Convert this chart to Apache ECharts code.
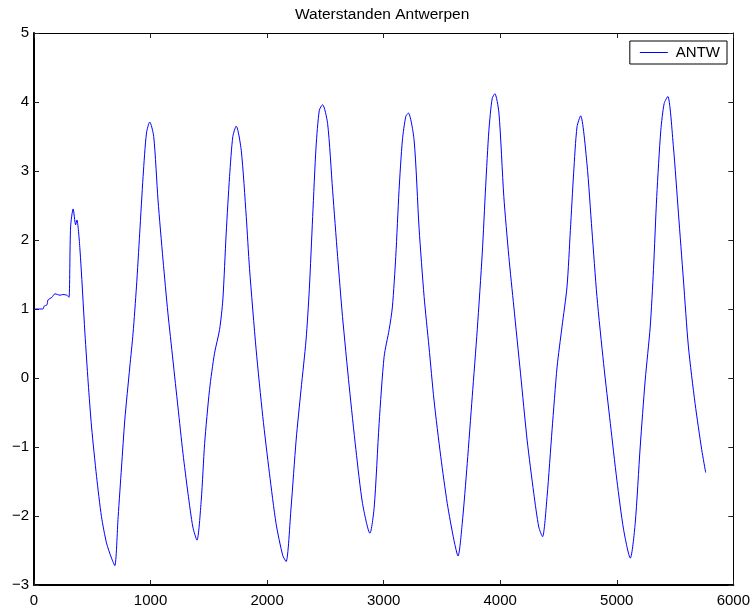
<!DOCTYPE html>
<html>
<head>
<meta charset="utf-8">
<script src="https://cdn.jsdelivr.net/npm/echarts@6/dist/echarts.min.js"></script>
<style>
html,body{margin:0;padding:0;background:#fff;}
#chart{width:753px;height:611px;}
</style>
</head>
<body>
<div id="chart"></div>
<script>
var titleText = 'Waterstanden Antwerpen';
var seriesName = 'ANTW';
var xTicks = [0, 1000, 2000, 3000, 4000, 5000, 6000];
var yTicks = [-3, -2, -1, 0, 1, 2, 3, 4, 5];

var times = [
  10, 77, 86, 111, 120, 154, 180, 223, 248, 282, 300, 314, 336, 357, 368, 394, 437,
  465, 494, 537, 579, 622, 665, 693, 722, 751, 779, 822, 850, 879, 907, 936, 965, 993,
  1027, 1064, 1107, 1149, 1192, 1235, 1278, 1321, 1363, 1398, 1435, 1464, 1506, 1549,
  1592, 1620, 1649, 1678, 1706, 1735, 1778, 1821, 1849, 1906, 1963, 2020, 2077, 2134,
  2163, 2206, 2249, 2291, 2334, 2362, 2391, 2420, 2448, 2476, 2519, 2562, 2605, 2647,
  2705, 2762, 2819, 2882, 2919, 2961, 3004, 3047, 3075, 3104, 3132, 3161, 3190, 3212,
  3261, 3304, 3347, 3389, 3432, 3490, 3546, 3603, 3638, 3674, 3717, 3760, 3803, 3846,
  3875, 3903, 3931, 3954, 3989, 4031, 4074, 4117, 4174, 4231, 4288, 4331, 4363, 4402,
  4445, 4488, 4530, 4573, 4602, 4630, 4659, 4690, 4744, 4787, 4830, 4887, 4945, 5001,
  5059, 5116, 5158, 5201, 5244, 5287, 5315, 5343, 5378, 5407, 5438, 5486, 5529, 5572,
  5615, 5672, 5729, 5763
];
var levels = [
  1.0, 1.0, 1.04, 1.06, 1.13, 1.17, 1.22, 1.2, 1.21, 1.2, 1.17, 2.19, 2.45, 2.22, 2.29, 1.87, 0.65,
  -0.07, -0.71, -1.43, -2.01, -2.39, -2.61, -2.72, -2.01, -1.29, -0.61, 0.16, 0.65, 1.32, 2.10, 2.92, 3.55, 3.71,
  3.50, 2.58, 1.71, 0.94, 0.26, -0.42, -1.09, -1.67, -2.16, -2.35, -1.77, -0.95, -0.17, 0.36,
  0.70, 1.13, 2.10, 2.92, 3.50, 3.65, 3.30, 2.34, 1.59, 0.41, -0.56, -1.38, -2.11, -2.57,
  -2.66, -1.87, -0.90, -0.17, 0.55, 1.28, 2.34, 3.35, 3.88, 3.96, 3.69, 2.72, 1.76, 0.89,
  -0.13, -1.04, -1.82, -2.25, -1.87, -0.66, 0.31, 0.70, 1.03, 1.76, 2.72, 3.45, 3.79, 3.84,
  3.45, 2.17, 1.18, 0.45, -0.32, -1.14, -1.82, -2.35, -2.58, -2.11, -1.24, -0.27, 0.70, 1.81,
  2.77, 3.59, 4.05, 4.12, 3.84, 2.63, 1.76, 1.03, 0.07, -0.90, -1.67, -2.16, -2.30, -1.72,
  -0.75, 0.16, 0.74, 1.32, 2.14, 2.97, 3.64, 3.80, 3.11, 2.14, 1.18, 0.21, -0.66, -1.48,
  -2.20, -2.61, -2.11, -1.00, -0.03, 0.74, 1.57, 2.63, 3.59, 3.98, 4.08, 3.35, 2.39, 1.42,
  0.45, -0.37, -1.04, -1.37
];

var FONT = '"Liberation Sans", Arial, Helvetica, sans-serif';
var data = times.map(function (t, i) { return [t, levels[i]]; });
function fmt(v) { return String(v).replace('-', '\u2212'); }

var xMin = xTicks[0], xMax = xTicks[xTicks.length - 1];
var yMin = yTicks[0], yMax = yTicks[yTicks.length - 1];

function xAxisDef(pos, show, lw) {
  return {
    type: 'value', position: pos, min: xMin, max: xMax, interval: 1000,
    axisLine: { show: true, onZero: false, lineStyle: { color: '#000', width: lw } },
    axisTick: { show: true, inside: true, length: 5, lineStyle: { color: '#222', width: 1 } },
    axisLabel: { show: show, margin: 8, color: '#000', fontSize: 15, fontFamily: FONT, formatter: fmt },
    splitLine: { show: false }
  };
}
function yAxisDef(pos, show, lw) {
  return {
    type: 'value', position: pos, min: yMin, max: yMax, interval: 1,
    axisLine: { show: true, onZero: false, lineStyle: { color: '#000', width: lw } },
    axisTick: { show: true, inside: true, length: 5, lineStyle: { color: '#222', width: 1 } },
    axisLabel: { show: show, margin: 5, color: '#000', fontSize: 15, fontFamily: FONT, formatter: fmt },
    splitLine: { show: false }
  };
}

var chart = echarts.init(document.getElementById('chart'), null, { renderer: 'canvas' });
chart.setOption({
  animation: false,
  backgroundColor: '#fff',
  title: {
    text: titleText, left: 295, top: 7, padding: 0,
    textStyle: { fontSize: 15.5, fontWeight: 'normal', color: '#000', fontFamily: FONT }
  },
  legend: {
    data: [seriesName], right: 26, top: 41,
    padding: [4, 7, 4, 10], itemWidth: 28, itemHeight: 1, itemGap: 10,
    icon: 'rect',
    borderColor: '#000', borderWidth: 1, backgroundColor: '#fff',
    textStyle: { fontSize: 15, color: '#000', fontFamily: FONT, padding: [0, 0, 0, 3], lineHeight: 15 }
  },
  grid: { left: 34, right: 18, top: 33, bottom: 26, containLabel: false },
  xAxis: [xAxisDef('bottom', true, 2), xAxisDef('top', false, 1)],
  yAxis: [yAxisDef('left', true, 2), yAxisDef('right', false, 1)],
  series: [{
    name: seriesName, type: 'line', data: data, xAxisIndex: 0, yAxisIndex: 0,
    symbol: 'none', smooth: 0.25,
    lineStyle: { color: '#0000ff', width: 1 }, itemStyle: { color: '#0000ff' }
  }]
});
</script>
</body>
</html>
